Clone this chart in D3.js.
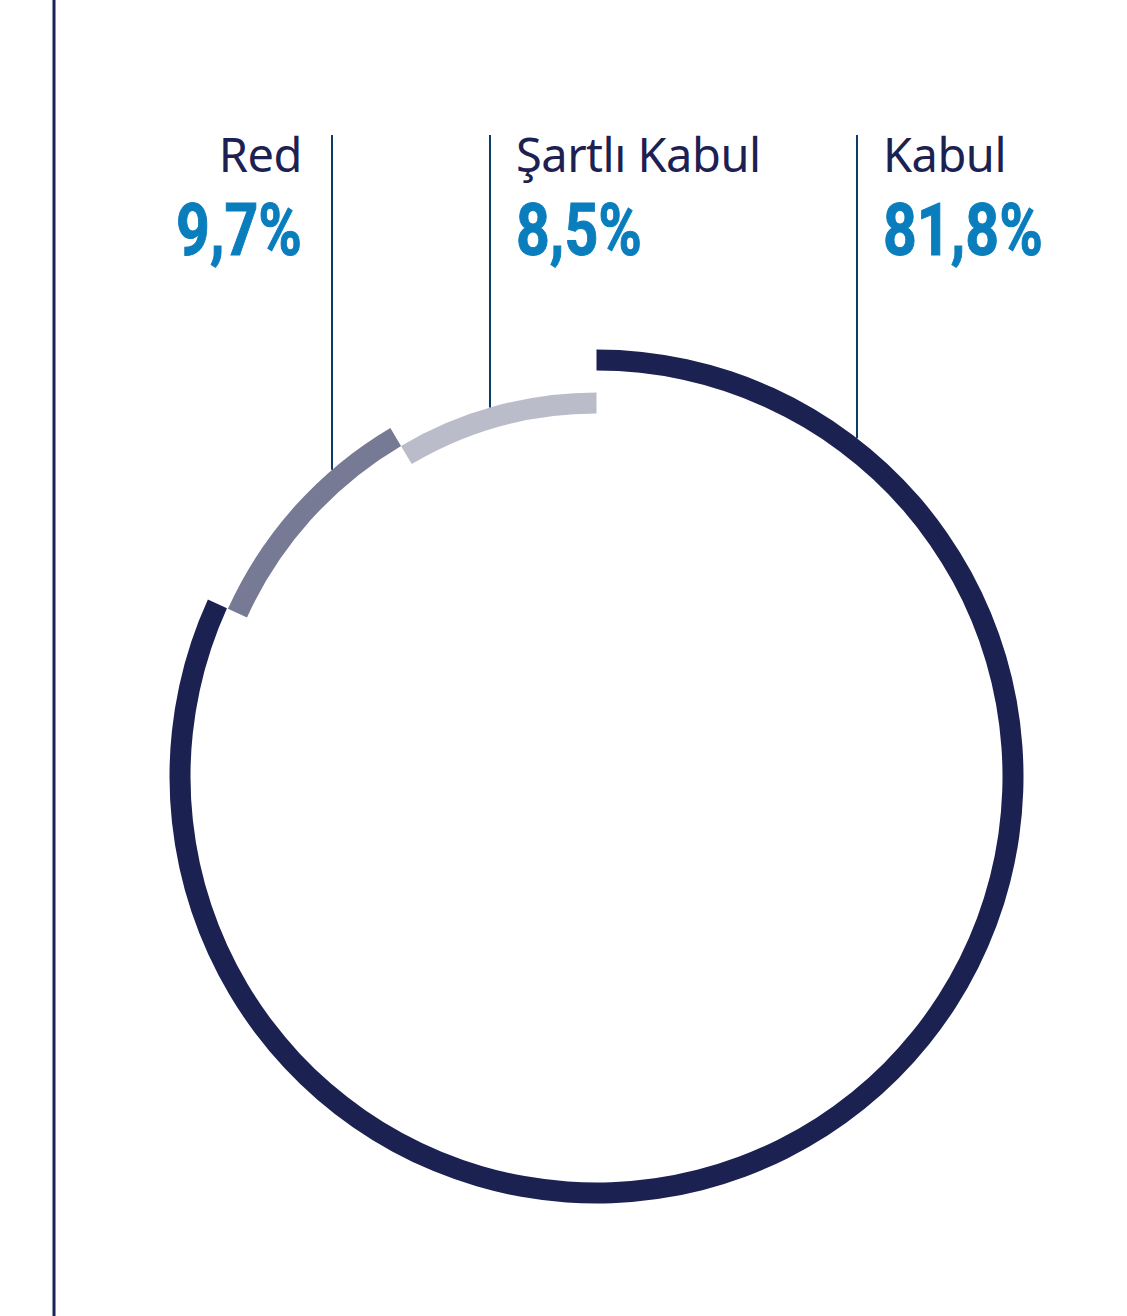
<!DOCTYPE html>
<html>
<head>
<meta charset="utf-8">
<script src="https://cdn.jsdelivr.net/npm/d3@7"></script>
<style>
  html, body { margin: 0; padding: 0; background: #fff; }
  svg { display: block; }
</style>
</head>
<body>
<div id="chart"></div>
<script>
// Data
const categories = ["Kabul", "Red", "Şartlı Kabul"];
const values = [81.8, 9.7, 8.5];
const valueLabels = ["81,8%", "9,7%", "8,5%"];

const width = 1127;
const height = 1316;
const cx = 596.5, cy = 776.5;

const colors = ["#1b2150", "#777a94", "#babcca"];
// each slice sits on its own ring, stepping inwards
const rings = [[406, 427], [384, 405], [363, 384]];
// label leader x position and text anchor per category
const labelX = [857, 332, 490];
const labelSide = ["right", "left", "right"];

const svg = d3.select("#chart").append("svg")
    .attr("width", width)
    .attr("height", height);

// left rule
svg.append("line")
    .attr("x1", 54).attr("x2", 54)
    .attr("y1", 0).attr("y2", height)
    .style("stroke", "#1b2458")
    .style("stroke-width", 3);

const pie = d3.pie()
    .sort(null)
    .value(d => d)
    .startAngle(0)
    .endAngle(2 * Math.PI);

const arcs = pie(values);

const g = svg.append("g").attr("transform", `translate(${cx},${cy})`);

g.selectAll("path")
    .data(arcs)
    .enter().append("path")
    .attr("d", (d, i) => d3.arc()
        .innerRadius(rings[i][0])
        .outerRadius(rings[i][1])(d))
    .style("fill", (d, i) => colors[i]);

// leader lines from the labels down to the outer edge of each ring
categories.forEach((c, i) => {
    const x = labelX[i];
    const r = rings[i][1];
    const y = cy - Math.sqrt(r * r - (x - cx) * (x - cx));

    svg.append("line")
        .attr("x1", x).attr("x2", x)
        .attr("y1", 135).attr("y2", y)
        .style("stroke", "#0d3c6b")
        .style("stroke-width", 2);

    const right = labelSide[i] === "right";
    const tx = right ? x + 26 : x - 30;

    svg.append("text")
        .attr("x", tx)
        .attr("y", 172)
        .attr("text-anchor", right ? "start" : "end")
        .style("font-family", "'Noto Sans', 'Open Sans', sans-serif")
        .style("font-size", "47px")
        .style("letter-spacing", "-0.5px")
        .style("fill", "#1c2152")
        .text(c);

    // percentages are set in a narrow bold face: squeeze Roboto horizontally
    svg.append("text")
        .attr("transform", `translate(${tx},255) scale(0.82,1)`)
        .attr("text-anchor", right ? "start" : "end")
        .style("font-family", "Roboto, sans-serif")
        .style("font-weight", "bold")
        .style("font-size", "72px")
        .style("stroke", "#0a7dbd")
        .style("stroke-width", 1)
        .style("fill", "#0a7dbd")
        .text(valueLabels[i]);
});
</script>
</body>
</html>
